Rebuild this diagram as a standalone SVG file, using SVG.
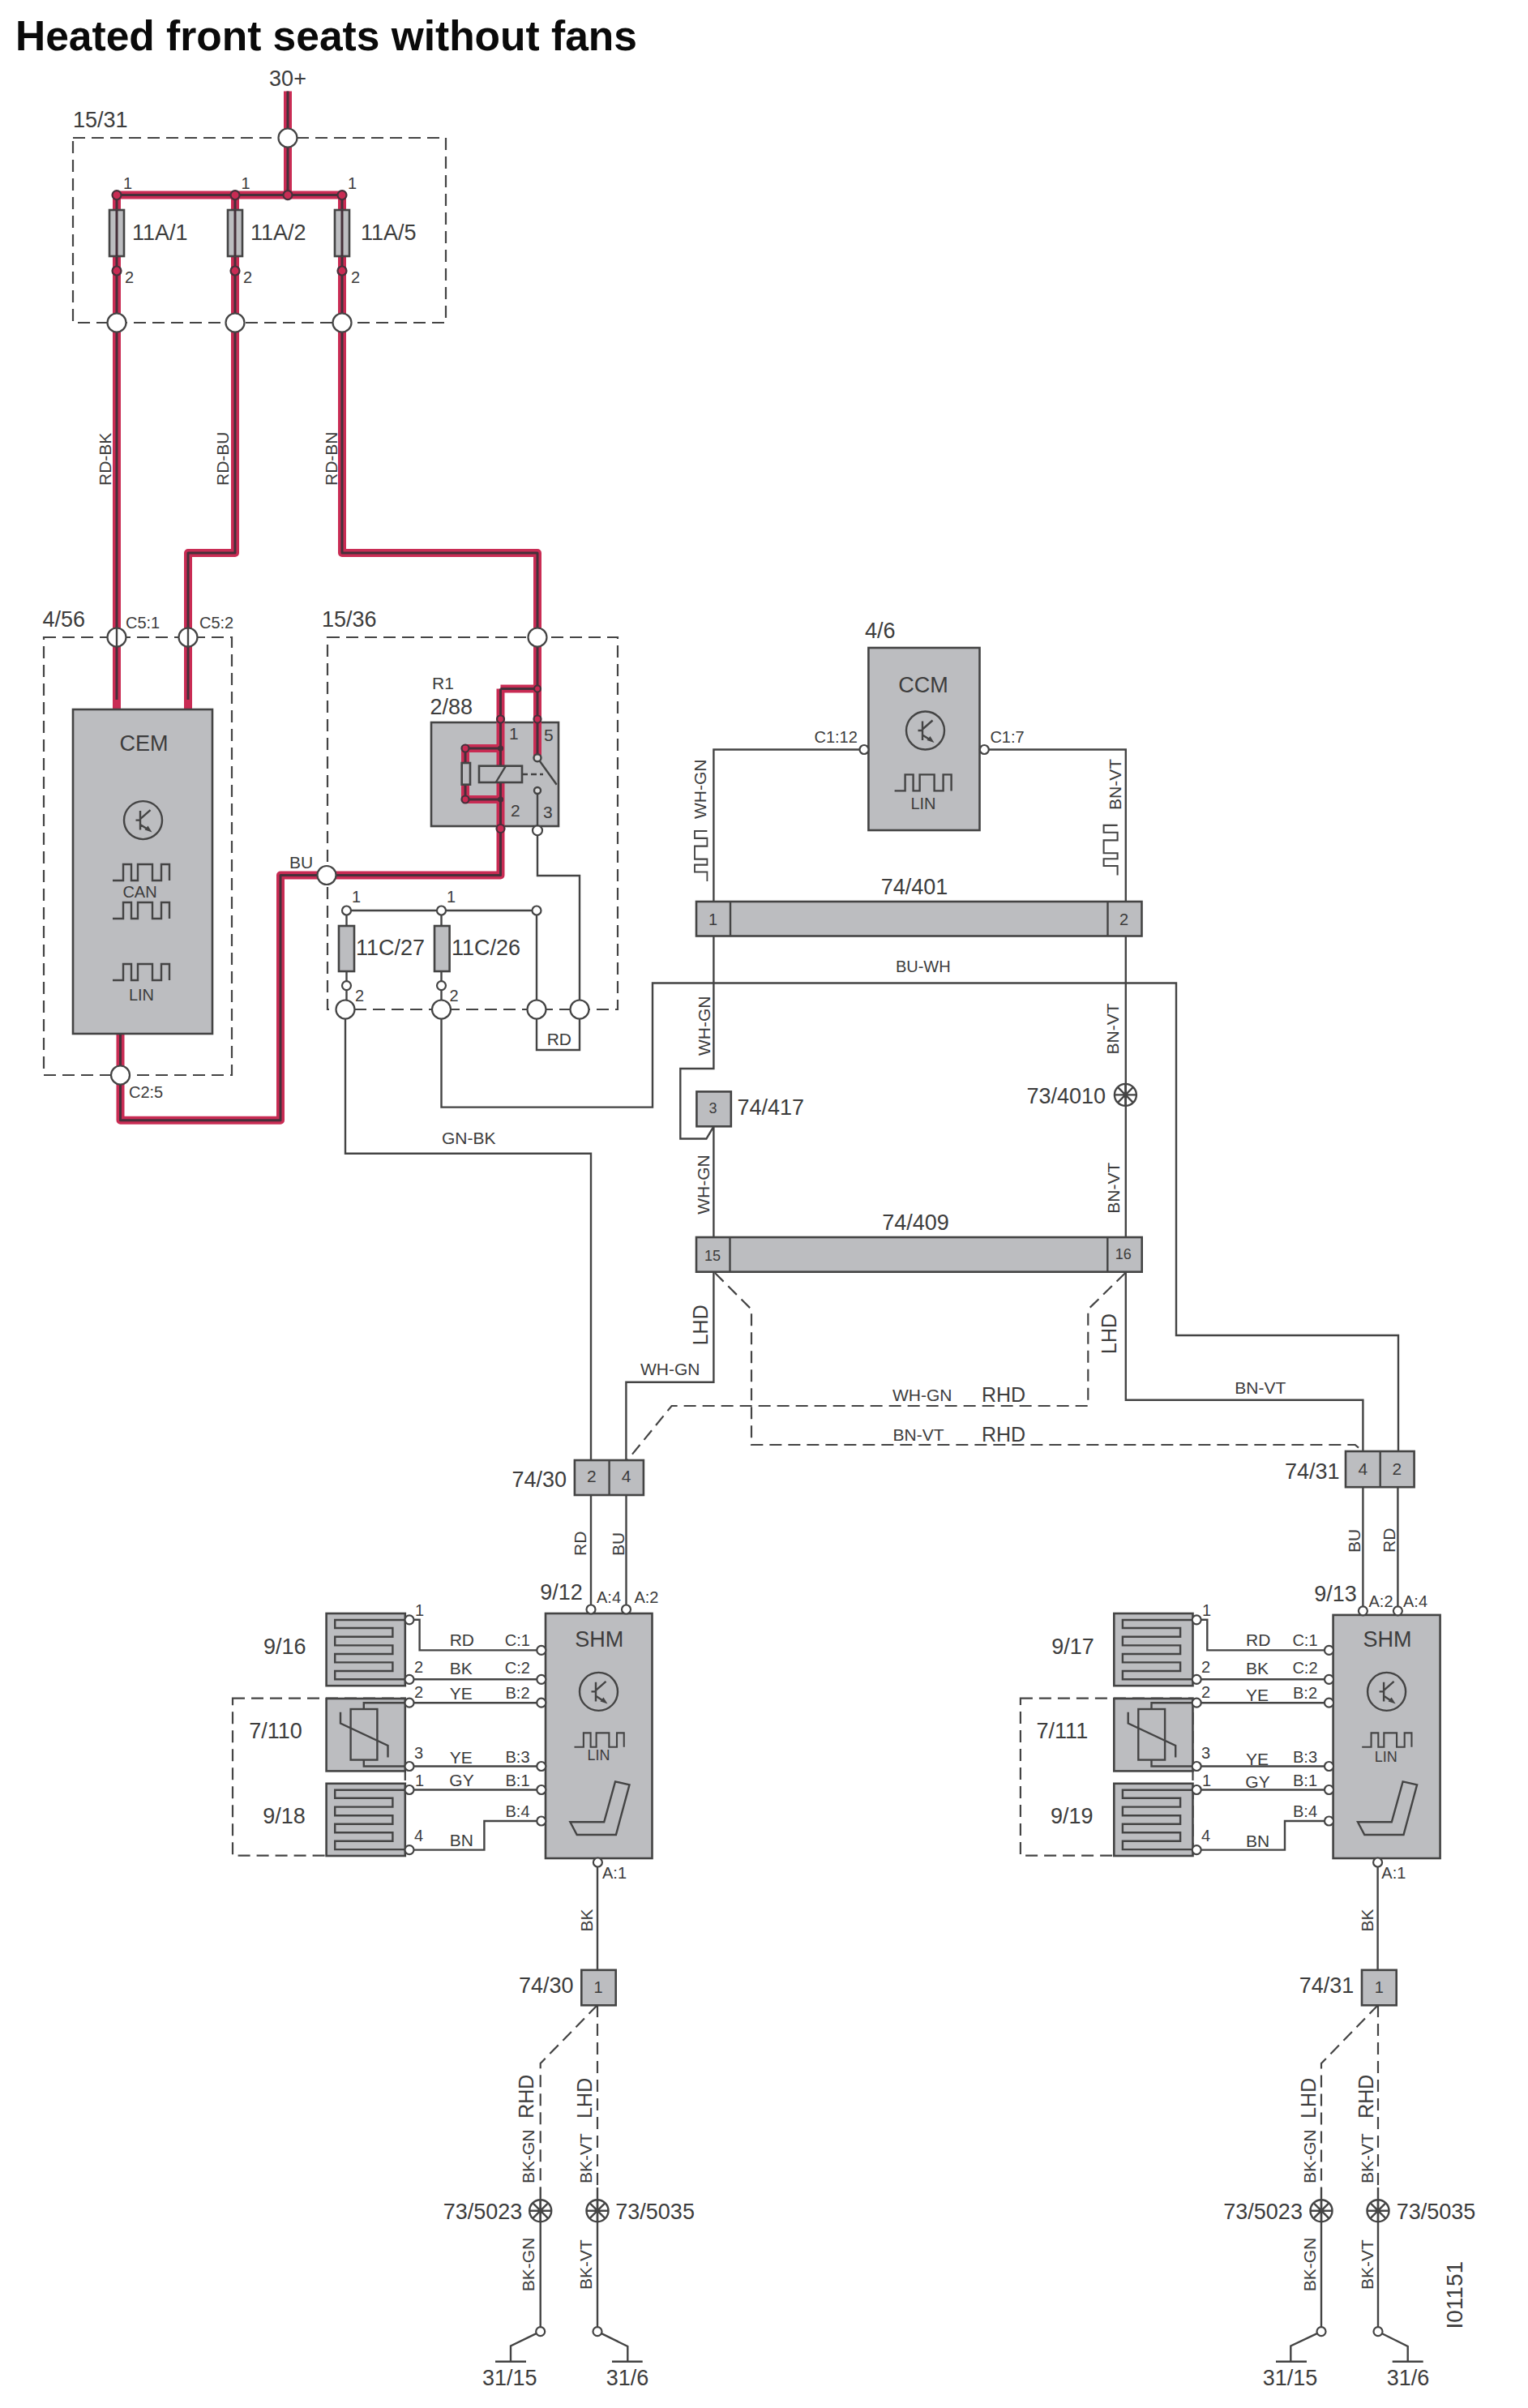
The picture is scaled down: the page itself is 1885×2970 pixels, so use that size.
<svg xmlns="http://www.w3.org/2000/svg" width="1885" height="2970" viewBox="0 0 1885 2970">
<style>
text{font-family:"Liberation Sans",Arial,sans-serif;fill:#3c3c3c}
.s18{font-size:18px}.s20{font-size:20px}.s21{font-size:21px}.s25{font-size:25px}.s27{font-size:27px}
.m{text-anchor:middle}
.title{font-size:51.5px;font-weight:bold;fill:#0a0a0a}
path,line,rect,circle{stroke:#444;stroke-width:2.4;fill:none}
.g{fill:#bcbdc0;stroke-width:2.6}
.c{fill:#fff;stroke-width:2.2}
.d{stroke-dasharray:15 8;stroke-width:2.2}
.rw{stroke:#c92c54;stroke-width:10;stroke-linejoin:round}
.rc{stroke:#46303a;stroke-width:3;stroke-linejoin:round}
.rd{fill:#c92c54;stroke:#46303a;stroke-width:2.2}
.dk{fill:#46303a;stroke:none}
.a{fill:#444;stroke:none}
</style>
<defs>
<path id="wave" d="M0 20H13V0H23V20H31V0H49V20H60V0H70V20"/>
<g id="tr">
<circle r="23.5"/>
<path d="M-3.5 -11.6V12M-9 0H-3.5M-3.5 -1.5L9 -12.5M-3.5 5.4L6 11.5"/>
<path class="a" d="M11 15L2 12L6 7Z"/>
</g>
<g id="splice">
<circle r="13.5" fill="none"/>
<path d="M-13.5 0H13.5M-9.5 -9.5L9.5 9.5M-9.5 9.5L9.5 -9.5M0 -13.5V13.5"/>
</g>
<g id="heater">
<rect class="g" width="97.2" height="89.2"/>
<path d="M102.4 8H10.6V18H81.8V28.8H10.6V39.4H81.8V50H10.6V60.4H81.8V71H10.6V81.3H102.4"/>
</g>
<g id="thermistor">
<rect class="g" width="97.2" height="89.4"/>
<rect x="30" y="13" width="32.8" height="62.6"/>
<path d="M46.2 13V5.2H102.4M46.2 75.6V83.5H102.4M17.4 16.7V30.5L75.9 58V72.4"/>
</g>
<path id="seat" d="M759 2197.4L776.5 2201.4L759.9 2263H711.7L703.4 2247.3H745.2Z"/>
</defs>
<rect width="1885" height="2970" style="fill:#fff;stroke:none"/>
<text class="title" x="19" y="61.6">Heated front seats without fans</text>
<text class="s27 m" x="355" y="106">30+</text>

<g id="frames">
<rect class="d" x="90" y="170" width="460" height="228"/>
<rect class="d" x="54" y="786" width="232" height="540"/>
<rect class="d" x="404" y="786" width="358" height="459"/>
<rect class="d" x="287" y="2094.7" width="212.8" height="194"/>
<rect class="d" x="1258.9" y="2094.7" width="212.6" height="194"/>
<rect class="g" id="relay-r1-body" x="532" y="891" width="157" height="128"/>
</g>

<g id="connectors">
<g>
<path class="rw" d="M355 112.5V240.6M144 240.6H422M144 240.6V875M290 240.6V682H232V875M422 240.6V682H663V934.7M617.5 849.5H663M617.5 849.5V1079.5H346V1381.7H148.5V1275M617.5 923H574V986H617.5"/>
<path class="rc" d="M355 112.5V240.6M144 240.6H422M144 240.6V863M290 240.6V682H232V863M422 240.6V682H663V934.7M617.5 849.5H663M617.5 849.5V1079.5H346V1381.7H148.5V1275M617.5 923H574V986H617.5"/>
</g>
<path d="M663 975V1080H715V1295H662V1123H427.5V1245M544.5 1123V1365.6H805V1212.5H1451V1647H1725V1790M426 1245V1422.7H729V1801M1066 924.5H880.4V1112M880.4 1154.5V1318H839.3V1404.5H871.4L880.4 1389.3V1526M1214 924.5H1388.8V1112M1388.8 1154.5V1526M880.4 1568.7V1704.7H772.4V1801M1388.8 1568.7V1726.7H1681.4V1790M729 1844V1985M772.5 1844V1985M1681.4 1834V1987M1724.4 1834V1987M737 2297V2430M1699.6 2297V2430M737 2698V2875.7M666.7 2698V2875.7M1700 2698V2875.7M1630 2698V2875.7"/>
<path class="d" d="M882 1570L927 1615V1782H1671.7L1680.6 1789.5M1388.3 1570L1342.3 1615V1734H828.6L774 1801M737 2473V2698M737 2473L666.7 2545V2698M1700 2473V2698M1700 2473L1630 2545V2698"/>
<path d="M505 1997.8H517.6V2035.4H667.8M505 2071.3H667.8M505 2100.2H667.8M505 2178.5H667.8M505 2207.5H667.8M505 2281.6H597.4V2246H667.8M1476.2 1997.8H1489.3V2035.4H1639.5M1476.2 2071.3H1639.5M1476.2 2100.2H1639.5M1476.2 2178.5H1639.5M1476.2 2207.5H1639.5M1476.2 2281.6H1585V2246H1639.5"/>
<use href="#wave" transform="translate(857 1087) rotate(-90) scale(.885 .77)"/>
<use href="#wave" transform="translate(1361.6 1079.5) rotate(-90) scale(.88 .85)"/>
<g class="labels">
<text class="s21" transform="translate(137 599) rotate(-90)">RD-BK</text>
<text class="s21" transform="translate(282 599) rotate(-90)">RD-BU</text>
<text class="s21" transform="translate(416 599) rotate(-90)">RD-BN</text>
<text class="s21" x="357" y="1070.5">BU</text>
<text class="s21" x="674.7" y="1289.3">RD</text>
<text class="s21" x="545" y="1410.7">GN-BK</text>
<text class="s21" transform="translate(871.4 1010) rotate(-90)">WH-GN</text>
<text class="s21" transform="translate(1382.6 999) rotate(-90)">BN-VT</text>
<text class="s20 m" x="1138.8" y="1199">BU-WH</text>
<text class="s21" transform="translate(875.9 1302) rotate(-90)">WH-GN</text>
<text class="s21" transform="translate(1379.5 1300.5) rotate(-90)">BN-VT</text>
<text class="s21" transform="translate(874.5 1497.7) rotate(-90)">WH-GN</text>
<text class="s21" transform="translate(1380.6 1496.7) rotate(-90)">BN-VT</text>
<text class="s25" transform="translate(873 1659.3) rotate(-90)">LHD</text>
<text class="s25" transform="translate(1377 1670) rotate(-90)">LHD</text>
<text class="s21" x="790" y="1696">WH-GN</text>
<text class="s21" x="1101" y="1728">WH-GN</text>
<text class="s25" x="1211" y="1728.7">RHD</text>
<text class="s21" x="1101.5" y="1777">BN-VT</text>
<text class="s25" x="1211" y="1778">RHD</text>
<text class="s21" x="1523.3" y="1719">BN-VT</text>
<text class="s21" transform="translate(723 1919) rotate(-90)">RD</text>
<text class="s21" transform="translate(769.8 1919) rotate(-90)">BU</text>
<text class="s21" transform="translate(1677.8 1915) rotate(-90)">BU</text>
<text class="s21" transform="translate(1721.3 1915) rotate(-90)">RD</text>
<text class="s21" x="554.7" y="2029.8">RD</text>
<text class="s21" x="554.7" y="2065">BK</text>
<text class="s21" x="554.7" y="2096">YE</text>
<text class="s21" x="554.7" y="2175">YE</text>
<text class="s21" x="554.3" y="2203">GY</text>
<text class="s21" x="554.7" y="2276.5">BN</text>
<text class="s21" x="1537" y="2029.8">RD</text>
<text class="s21" x="1537" y="2065">BK</text>
<text class="s21" x="1537" y="2097.8">YE</text>
<text class="s21" x="1537" y="2176.9">YE</text>
<text class="s21" x="1536.3" y="2204.5">GY</text>
<text class="s21" x="1537" y="2277.7">BN</text>
<text class="s21" transform="translate(730.7 2382.4) rotate(-90)">BK</text>
<text class="s21" transform="translate(1694 2382.4) rotate(-90)">BK</text>
<text class="s25" transform="translate(658.3 2612.8) rotate(-90)">RHD</text>
<text class="s25" transform="translate(730 2612.8) rotate(-90)">LHD</text>
<text class="s25" transform="translate(1623.3 2612.8) rotate(-90)">LHD</text>
<text class="s25" transform="translate(1694 2612.8) rotate(-90)">RHD</text>
<text class="s21" transform="translate(659 2693) rotate(-90)">BK-GN</text>
<text class="s21" transform="translate(730 2693) rotate(-90)">BK-VT</text>
<text class="s21" transform="translate(1623.3 2693) rotate(-90)">BK-GN</text>
<text class="s21" transform="translate(1694 2693) rotate(-90)">BK-VT</text>
<text class="s21" transform="translate(659 2826.3) rotate(-90)">BK-GN</text>
<text class="s21" transform="translate(730 2824) rotate(-90)">BK-VT</text>
<text class="s21" transform="translate(1623.3 2826.3) rotate(-90)">BK-GN</text>
<text class="s21" transform="translate(1694 2824) rotate(-90)">BK-VT</text>
</g>
</g>

<g id="fuse-box-15-31">
<text class="s27" x="90" y="157">15/31</text>
<circle class="c" cx="355" cy="170" r="11.5"/>
<circle class="c" cx="144" cy="398" r="11.5"/>
<circle class="c" cx="290" cy="398" r="11.5"/>
<circle class="c" cx="422" cy="398" r="11.5"/>
<circle class="rd" cx="355" cy="240.6" r="5.5"/>
</g>
<g id="fuse-11A-1">
<rect class="g" x="135" y="259" width="18" height="57"/><line x1="144" y1="259" x2="144" y2="316" class="rc"/>
<circle class="rd" cx="144" cy="240.6" r="5.5"/><circle class="rd" cx="144" cy="334" r="5.5"/>
<text class="s20" x="152" y="233">1</text><text class="s20" x="154" y="349">2</text>
<text class="s27" x="163" y="295.5">11A/1</text>
</g>
<g id="fuse-11A-2">
<rect class="g" x="281" y="259" width="18" height="57"/><line x1="290" y1="259" x2="290" y2="316" class="rc"/>
<circle class="rd" cx="290" cy="240.6" r="5.5"/><circle class="rd" cx="290" cy="334" r="5.5"/>
<text class="s20" x="297.5" y="233">1</text><text class="s20" x="300" y="349">2</text>
<text class="s27" x="309" y="295.5">11A/2</text>
</g>
<g id="fuse-11A-5">
<rect class="g" x="413" y="259" width="18" height="57"/><line x1="422" y1="259" x2="422" y2="316" class="rc"/>
<circle class="rd" cx="422" cy="240.6" r="5.5"/><circle class="rd" cx="422" cy="334" r="5.5"/>
<text class="s20" x="429" y="233">1</text><text class="s20" x="433" y="349">2</text>
<text class="s27" x="445" y="295.5">11A/5</text>
</g>

<g id="cem">
<text class="s27" x="52.5" y="773">4/56</text>
<rect class="g" x="90" y="875" width="172" height="400"/>
<text class="s27 m" x="177.5" y="926">CEM</text>
<use href="#tr" x="176.5" y="1011.6"/>
<use href="#wave" x="139" y="1066"/>
<text class="s20 m" x="172.5" y="1107">CAN</text>
<use href="#wave" x="139" y="1113"/>
<use href="#wave" x="139" y="1189"/>
<text class="s20 m" x="174.5" y="1234">LIN</text>
<circle class="c" cx="144" cy="786" r="11.5"/><line x1="144" y1="774.5" x2="144" y2="797.5"/>
<circle class="c" cx="232" cy="786" r="11.5"/><line x1="232" y1="774.5" x2="232" y2="797.5"/>
<circle class="c" cx="148.5" cy="1326" r="11.5"/>
<text class="s20" x="155" y="775">C5:1</text>
<text class="s20" x="246" y="775">C5:2</text>
<text class="s20" x="159" y="1354">C2:5</text>
</g>

<g id="relay-r1">
<text class="s21" x="533" y="849.5">R1</text>
<text class="s27" x="530.5" y="880.5">2/88</text>
<circle class="rd" cx="617.5" cy="887" r="4.5"/><circle class="rd" cx="663" cy="887" r="4.5"/><circle class="rd" cx="663" cy="849.5" r="4"/>
<circle class="rd" cx="574" cy="923" r="4.5"/><circle class="rd" cx="574" cy="986" r="4.5"/>
<circle class="dk" cx="617.5" cy="923" r="3.5"/><circle class="dk" cx="617.5" cy="986" r="3.5"/>
<rect class="g" x="569.7" y="941" width="10.3" height="26.7"/>
<rect class="g" x="591" y="944.7" width="53" height="20.3"/>
<path d="M611.7 965L624 944.7"/>
<path d="M644 955H670" stroke-dasharray="7 4"/>
<path d="M663 934.7L686.7 967.7"/>
<circle cx="663" cy="934.7" r="4.5" style="fill:#d9d9d9"/>
<circle cx="663" cy="975" r="4" style="fill:#d9d9d9"/>
<circle class="rd" cx="617.5" cy="1022" r="5"/>
<circle class="c" cx="663" cy="1024.3" r="6"/>
<text class="s21" x="628" y="912">1</text><text class="s21" x="671" y="914">5</text>
<text class="s21" x="630" y="1006.7">2</text><text class="s21" x="670" y="1008.7">3</text>
</g>

<g id="fuse-box-15-36">
<text class="s27" x="397" y="773">15/36</text>
<circle class="c" cx="663" cy="786" r="11.5"/>
<circle class="c" cx="403" cy="1079.5" r="11.5"/>
<circle class="c" cx="426" cy="1245" r="11.5"/>
<circle class="c" cx="544.5" cy="1245" r="11.5"/>
<circle class="c" cx="662" cy="1245" r="11.5"/>
<circle class="c" cx="715" cy="1245" r="11.5"/>
<circle class="c" cx="662" cy="1123" r="5.5"/>
</g>
<g id="fuse-11C-27">
<rect class="g" x="418" y="1142" width="19" height="56"/>
<circle class="c" cx="427.5" cy="1123" r="5.5"/><circle class="c" cx="427.5" cy="1215.6" r="5.5"/>
<text class="s20" x="434" y="1113">1</text><text class="s20" x="438" y="1235">2</text>
<text class="s27" x="439" y="1178">11C/27</text>
</g>
<g id="fuse-11C-26">
<rect class="g" x="536" y="1142" width="18.6" height="56"/>
<circle class="c" cx="544.5" cy="1123" r="5.5"/><circle class="c" cx="544.5" cy="1215.6" r="5.5"/>
<text class="s20" x="551" y="1113">1</text><text class="s20" x="554.6" y="1235">2</text>
<text class="s27" x="557" y="1178">11C/26</text>
</g>

<g id="ccm">
<text class="s27" x="1067" y="786.6">4/6</text>
<rect class="g" x="1071.4" y="799" width="137.1" height="225"/>
<text class="s27 m" x="1139" y="853.6">CCM</text>
<use href="#tr" x="1141.5" y="901"/>
<use href="#wave" x="1103.6" y="955.4"/>
<text class="s20 m" x="1139" y="998">LIN</text>
<circle class="c" cx="1066" cy="924.5" r="5.5"/><circle class="c" cx="1214.3" cy="924.5" r="5.5"/>
<text class="s20" x="1004.5" y="916">C1:12</text><text class="s20" x="1221.4" y="916">C1:7</text>
</g>

<g id="connector-74-401">
<text class="s27 m" x="1128" y="1102.7">74/401</text>
<rect class="g" x="859" y="1112" width="549.5" height="42.5"/>
<line x1="901" y1="1112" x2="901" y2="1154.5"/><line x1="1366.5" y1="1112" x2="1366.5" y2="1154.5"/>
<text class="s20 m" x="879.5" y="1141">1</text><text class="s20 m" x="1386.6" y="1140.6">2</text>
</g>
<g id="connector-74-417">
<rect class="g" x="859.4" y="1346.4" width="42.4" height="42.9"/>
<text class="s18 m" x="879.5" y="1373">3</text>
<text class="s27" x="909.4" y="1375">74/417</text>
</g>
<g id="splice-73-4010">
<use href="#splice" x="1388.4" y="1350.4"/>
<text class="s27" x="1266.5" y="1360.7">73/4010</text>
</g>
<g id="connector-74-409">
<text class="s27 m" x="1129.6" y="1516.7">74/409</text>
<rect class="g" x="859" y="1526" width="549.7" height="42.7"/>
<line x1="900.5" y1="1526" x2="900.5" y2="1568.7"/><line x1="1366.3" y1="1526" x2="1366.3" y2="1568.7"/>
<text class="s18 m" x="879" y="1555">15</text><text class="s18 m" x="1385.7" y="1553">16</text>
</g>
<g id="connector-74-30">
<rect class="g" x="708.9" y="1801" width="85" height="43"/>
<line x1="751.6" y1="1801" x2="751.6" y2="1844"/>
<text class="s21 m" x="729.8" y="1828">2</text><text class="s21 m" x="772.5" y="1828">4</text>
<text class="s27" x="631.4" y="1833.8">74/30</text>
</g>
<g id="connector-74-31">
<rect class="g" x="1660" y="1790" width="84.6" height="44.2"/>
<line x1="1702.7" y1="1790" x2="1702.7" y2="1834.2"/>
<text class="s21 m" x="1681.4" y="1819">4</text><text class="s21 m" x="1723.3" y="1819">2</text>
<text class="s27" x="1585" y="1823.5">74/31</text>
</g>

<g id="shm-9-12">
<rect class="g" x="673" y="1990" width="131.5" height="302"/>
<text class="s27" x="666.2" y="1972.5">9/12</text>
<text class="s27 m" x="739.3" y="2031.4">SHM</text>
<use href="#tr" x="738.5" y="2086.4"/>
<use href="#wave" transform="translate(708.5 2137.4) scale(.875 .87)"/>
<text class="s18 m" x="738.5" y="2171.3">LIN</text>
<use href="#seat"/>
<circle class="c" cx="729" cy="1985" r="5.5"/><circle class="c" cx="772.5" cy="1985" r="5.5"/><circle class="c" cx="737.4" cy="2297" r="5.5"/>
<circle class="c" cx="667.8" cy="2035.4" r="5.5"/><circle class="c" cx="667.8" cy="2071.3" r="5.5"/><circle class="c" cx="667.8" cy="2100.2" r="5.5"/><circle class="c" cx="667.8" cy="2178.5" r="5.5"/><circle class="c" cx="667.8" cy="2207.5" r="5.5"/><circle class="c" cx="667.8" cy="2246" r="5.5"/>
<text class="s20" x="736" y="1976.5">A:4</text><text class="s20" x="782.4" y="1976.5">A:2</text><text class="s20" x="743" y="2317">A:1</text>
<text class="s20" x="622.7" y="2029.8">C:1</text><text class="s20" x="622.7" y="2064">C:2</text><text class="s20" x="623.5" y="2095">B:2</text><text class="s20" x="623.5" y="2174">B:3</text><text class="s20" x="623.5" y="2203">B:1</text><text class="s20" x="623.5" y="2240.5">B:4</text>
</g>
<g id="heater-9-16">
<use href="#heater" x="402.6" y="1990"/>
<circle class="c" cx="505" cy="1997.8" r="5.5"/><circle class="c" cx="505" cy="2071.3" r="5.5"/>
<text class="s20" x="512" y="1993">1</text><text class="s20" x="511" y="2063.4">2</text>
<text class="s27" x="325" y="2039.7">9/16</text>
</g>
<g id="sensor-7-110">
<use href="#thermistor" x="402.6" y="2095"/>
<circle class="c" cx="505" cy="2100.2" r="5.5"/><circle class="c" cx="505" cy="2178.5" r="5.5"/>
<text class="s20" x="511" y="2093.9">2</text><text class="s20" x="511" y="2169">3</text>
<text class="s27" x="307.3" y="2144">7/110</text>
</g>
<g id="heater-9-18">
<use href="#heater" x="402.6" y="2199.8"/>
<circle class="c" cx="505" cy="2207.5" r="5.5"/><circle class="c" cx="505" cy="2281.6" r="5.5"/>
<text class="s20" x="512" y="2202.6">1</text><text class="s20" x="511" y="2270.5">4</text>
<text class="s27" x="324.3" y="2249">9/18</text>
</g>

<g id="shm-9-13">
<rect class="g" x="1644.6" y="1991.9" width="132" height="300.1"/>
<text class="s27" x="1621.3" y="1975.3">9/13</text>
<text class="s27 m" x="1711.4" y="2031.4">SHM</text>
<use href="#tr" x="1710.6" y="2086.4"/>
<use href="#wave" transform="translate(1680.2 2137.4) scale(.875 .87)"/>
<text class="s18 m" x="1709.8" y="2173">LIN</text>
<use href="#seat" x="971.6"/>
<circle class="c" cx="1681.4" cy="1986.8" r="5.5"/><circle class="c" cx="1724.4" cy="1986.8" r="5.5"/><circle class="c" cx="1699.6" cy="2297" r="5.5"/>
<circle class="c" cx="1639.5" cy="2035.4" r="5.5"/><circle class="c" cx="1639.5" cy="2071.3" r="5.5"/><circle class="c" cx="1639.5" cy="2100.2" r="5.5"/><circle class="c" cx="1639.5" cy="2178.5" r="5.5"/><circle class="c" cx="1639.5" cy="2207.5" r="5.5"/><circle class="c" cx="1639.5" cy="2246" r="5.5"/>
<text class="s20" x="1688.5" y="1982">A:2</text><text class="s20" x="1731" y="1982">A:4</text><text class="s20" x="1704.3" y="2317">A:1</text>
<text class="s20" x="1594.4" y="2029.8">C:1</text><text class="s20" x="1594.4" y="2064">C:2</text><text class="s20" x="1595" y="2095">B:2</text><text class="s20" x="1595" y="2174">B:3</text><text class="s20" x="1595" y="2203">B:1</text><text class="s20" x="1595" y="2240.5">B:4</text>
</g>
<g id="heater-9-17">
<use href="#heater" x="1374.3" y="1990"/>
<circle class="c" cx="1476.2" cy="1997.8" r="5.5"/><circle class="c" cx="1476.2" cy="2071.3" r="5.5"/>
<text class="s20" x="1483" y="1993">1</text><text class="s20" x="1482" y="2063.4">2</text>
<text class="s27" x="1297.2" y="2039.7">9/17</text>
</g>
<g id="sensor-7-111">
<use href="#thermistor" x="1374.3" y="2095"/>
<circle class="c" cx="1476.2" cy="2100.2" r="5.5"/><circle class="c" cx="1476.2" cy="2178.5" r="5.5"/>
<text class="s20" x="1482" y="2093.9">2</text><text class="s20" x="1482" y="2169">3</text>
<text class="s27" x="1278.6" y="2144">7/111</text>
</g>
<g id="heater-9-19">
<use href="#heater" x="1374.3" y="2199.8"/>
<circle class="c" cx="1476.2" cy="2207.5" r="5.5"/><circle class="c" cx="1476.2" cy="2281.6" r="5.5"/>
<text class="s20" x="1483" y="2202.6">1</text><text class="s20" x="1482" y="2270.5">4</text>
<text class="s27" x="1296" y="2249">9/19</text>
</g>

<g id="connector-74-30-1">
<rect class="g" x="717.3" y="2429.8" width="42.4" height="43.5"/>
<text class="s20 m" x="738" y="2457.5">1</text>
<text class="s27" x="640" y="2458">74/30</text>
</g>
<g id="connector-74-31-1">
<rect class="g" x="1680" y="2429.8" width="42.7" height="43.5"/>
<text class="s20 m" x="1701.3" y="2457.5">1</text>
<text class="s27" x="1602.7" y="2458">74/31</text>
</g>
<g id="splice-73-5023-l"><use href="#splice" x="666.7" y="2726.7"/><text class="s27" x="546.7" y="2736.6">73/5023</text></g>
<g id="splice-73-5035-l"><use href="#splice" x="737" y="2726.7"/><text class="s27" x="759.3" y="2736.6">73/5035</text></g>
<g id="splice-73-5023-r"><use href="#splice" x="1630" y="2726.7"/><text class="s27" x="1509.3" y="2736.6">73/5023</text></g>
<g id="splice-73-5035-r"><use href="#splice" x="1700" y="2726.7"/><text class="s27" x="1722.7" y="2736.6">73/5035</text></g>

<g id="ground-31-15-l">
<path d="M666.7 2875.7L630 2893.5V2912.8M611 2912.8H649"/>
<circle class="c" cx="666.7" cy="2875.7" r="5.5"/>
<text class="s27" x="595" y="2941.7">31/15</text>
</g>
<g id="ground-31-6-l">
<path d="M737 2875.7L774.3 2894V2912.8M755 2912.8H792.7"/>
<circle class="c" cx="737" cy="2875.7" r="5.5"/>
<text class="s27" x="747.7" y="2941.7">31/6</text>
</g>
<g id="ground-31-15-r">
<path d="M1630 2875.7L1592.3 2893.5V2912.8M1574 2912.8H1612"/>
<circle class="c" cx="1630" cy="2875.7" r="5.5"/>
<text class="s27" x="1557.7" y="2941.7">31/15</text>
</g>
<g id="ground-31-6-r">
<path d="M1700 2875.7L1736.7 2894V2912.8M1717.7 2912.8H1755.7"/>
<circle class="c" cx="1700" cy="2875.7" r="5.5"/>
<text class="s27" x="1710.7" y="2941.7">31/6</text>
</g>
<text style="font-size:28px" transform="translate(1804 2872.5) rotate(-90)">I01151</text>
</svg>
